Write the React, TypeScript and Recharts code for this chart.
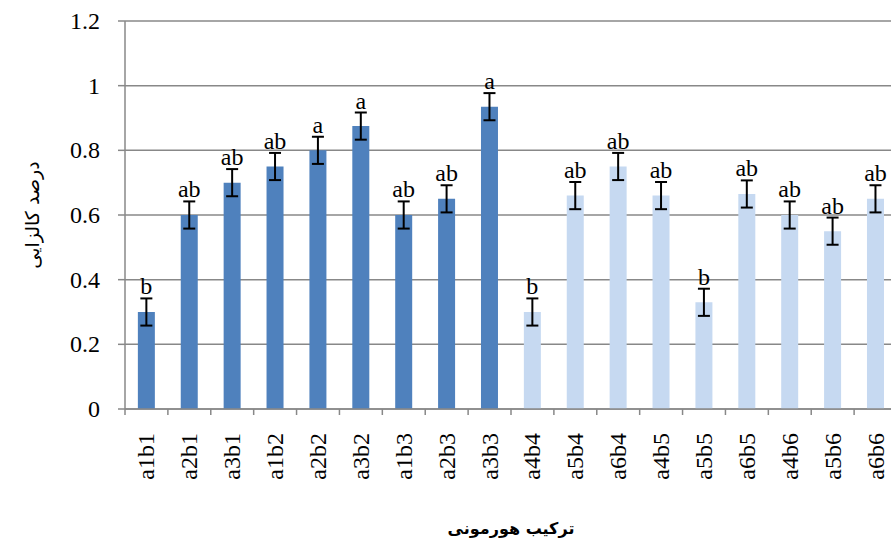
import React from "react";
import { BarChart, Bar, XAxis, YAxis, CartesianGrid, Cell, ErrorBar, LabelList, Label } from "recharts";

const categories = ["a1b1", "a2b1", "a3b1", "a1b2", "a2b2", "a3b2", "a1b3", "a2b3", "a3b3", "a4b4", "a5b4", "a6b4", "a4b5", "a5b5", "a6b5", "a4b6", "a5b6", "a6b6"];
const values = [0.3, 0.6, 0.7, 0.75, 0.8, 0.875, 0.6, 0.65, 0.935, 0.3, 0.66, 0.75, 0.66, 0.33, 0.665, 0.6, 0.55, 0.65];
const errors = [0.042, 0.042, 0.042, 0.042, 0.042, 0.042, 0.042, 0.042, 0.042, 0.042, 0.042, 0.042, 0.042, 0.042, 0.042, 0.042, 0.042, 0.042];
const letters = ["b", "ab", "ab", "ab", "a", "a", "ab", "ab", "a", "b", "ab", "ab", "ab", "b", "ab", "ab", "ab", "ab"];
const yTicks = [0, 0.2, 0.4, 0.6, 0.8, 1, 1.2];

const DARK = "#4F81BD";
const LIGHT = "#C6D9F1";
const GRID = "#888888";
const SERIF = "Liberation Serif, DejaVu Serif, serif";
const ARABIC = "DejaVu Sans, sans-serif";

const data = categories.map((name, i) => ({ name, value: values[i], err: errors[i], letter: letters[i] }));

function XTick(props: any) {
  const { x, y, payload } = props;
  const half = payload?.offset ?? 21.4;
  return (
    <g>
      <line x1={x - half} y1={y} x2={x - half} y2={y + 6} stroke={GRID} strokeWidth={1.5} />
      <g transform={`translate(${x},${y + 24}) rotate(-90)`}>
        <text x={0} y={8} textAnchor="end" style={{ fontFamily: SERIF, fontSize: 24 }} fill="#000">
          {payload.value}
        </text>
      </g>
    </g>
  );
}

function YTick(props: any) {
  const { x, y, payload } = props;
  return (
    <text x={x} y={y} dy={8} textAnchor="end" style={{ fontFamily: SERIF, fontSize: 24 }} fill="#000">
      {payload.value}
    </text>
  );
}

function LetterLabel(props: any) {
  const { x, y, width, height, index, value } = props;
  const v = values[index];
  const pxPerUnit = v ? height / v : 0;
  const top = y - errors[index] * pxPerUnit;
  return (
    <text x={x + width / 2} y={top - 4} textAnchor="middle" style={{ fontFamily: SERIF, fontSize: 24 }} fill="#000">
      {value}
    </text>
  );
}

export default function App() {
  return (
    <div style={{ position: "absolute", left: 0, top: 0, width: 891, height: 543, overflow: "hidden", background: "#fff" }}>
      <BarChart width={898} height={543} data={data} margin={{ top: 21, right: 1, left: 0, bottom: 0 }} barCategoryGap="30%">
        <CartesianGrid vertical={false} stroke={GRID} strokeWidth={1.5} />
        <XAxis
          dataKey="name"
          height={134}
          interval={0}
          tickLine={false}
          tickSize={0}
          tickMargin={0}
          axisLine={{ stroke: GRID, strokeWidth: 1.5 }}
          tick={<XTick />}
        >
          <Label
            content={(p: any) => {
              const vb = p.viewBox;
              return (
                <text x={vb.x + vb.width / 2} y={vb.y + vb.height - 9} textAnchor="middle" style={{ fontFamily: ARABIC, fontWeight: "bold", fontSize: 16 }} fill="#000">
                  ترکیب هورمونی
                </text>
              );
            }}
          />
        </XAxis>
        <YAxis
          width={125}
          domain={[0, 1.2]}
          ticks={yTicks}
          interval={0}
          tickSize={7}
          tickMargin={18}
          axisLine={{ stroke: GRID, strokeWidth: 1.5 }}
          tickLine={{ stroke: GRID, strokeWidth: 1.5 }}
          tick={<YTick />}
        >
          <Label
            content={(p: any) => {
              const vb = p.viewBox;
              const cy = vb.y + vb.height / 2;
              return (
                <text x={32} y={cy} transform={`rotate(-90, 32, ${cy})`} textAnchor="middle" dominantBaseline="central" style={{ fontFamily: ARABIC, fontSize: 19 }} fill="#000">
                  درصد کالزایی
                </text>
              );
            }}
          />
        </YAxis>
        <Bar dataKey="value" isAnimationActive={false}>
          {data.map((_, i) => (
            <Cell key={i} fill={i < 9 ? DARK : LIGHT} />
          ))}
          <ErrorBar dataKey="err" width={6} strokeWidth={2} stroke="#000" direction="y" isAnimationActive={false} />
          <LabelList dataKey="letter" content={<LetterLabel />} />
        </Bar>
      </BarChart>
    </div>
  );
}
